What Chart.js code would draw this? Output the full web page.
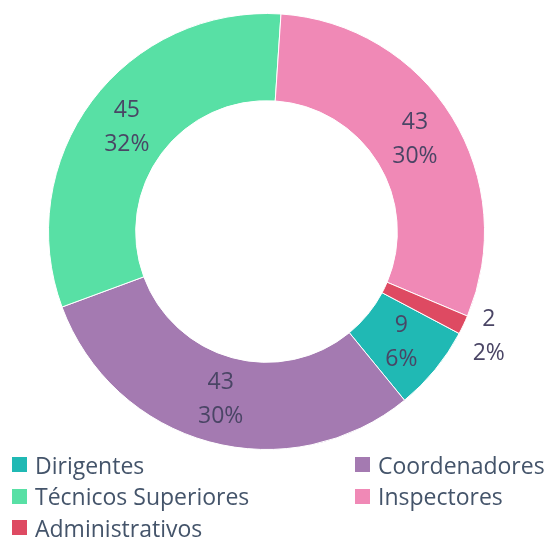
<!DOCTYPE html>
<html>
<head>
<meta charset="utf-8">
<script src="https://cdn.jsdelivr.net/npm/chart.js@4"></script>
<style>
    html, body { margin: 0; padding: 0; background: #fff; }
    #wrap { position: relative; width: 551px; height: 540px; }
    #legend { position: absolute; left: 12px; top: 449px; width: 539px; display: grid; grid-template-columns: 343px 196px; row-gap: 0; font-family: "Open Sans", sans-serif; font-size: 23px; color: #44546a; }
    .item { display: flex; align-items: center; height: 31.5px; white-space: nowrap; }
    .box { width: 15px; height: 15px; margin-right: 8px; flex: none; }
</style>
</head>
<body>
<div id="wrap">
    <canvas id="doughnutChart" width="551" height="455"></canvas>
    <div id="legend"></div>
</div>
<script>
const categories = ['Dirigentes', 'Coordenadores', 'Técnicos Superiores', 'Inspectores', 'Administrativos'];
const values = [9, 43, 45, 43, 2];
const colors = ['#20b9b4', '#a47ab1', '#58e0a5', '#f089b6', '#de4a62'];

// percentages rounded so they add up to 100 (largest remainder)
const total = values.reduce((a, b) => a + b, 0);
const raw = values.map(v => v / total * 100);
const pct = raw.map(Math.floor);
let left = 100 - pct.reduce((a, b) => a + b, 0);
raw.map((r, i) => [r - Math.floor(r), i]).sort((a, b) => b[0] - a[0]).slice(0, left).forEach(([, i]) => pct[i]++);

// value + percent labels on the slices
const sliceLabels = {
    id: 'sliceLabels',
    afterDatasetsDraw(chart) {
        const ctx = chart.ctx;
        const meta = chart.getDatasetMeta(0);
        ctx.save();
        ctx.font = '23px "Open Sans", sans-serif';
        ctx.fillStyle = '#4a4565';
        ctx.textAlign = 'center';
        ctx.textBaseline = 'middle';
        meta.data.forEach((arc, i) => {
            const p = arc.getProps(['x', 'y', 'startAngle', 'endAngle', 'innerRadius', 'outerRadius'], true);
            const mid = (p.startAngle + p.endAngle) / 2;
            const small = values[i] / total < 0.03;
            const r = small ? p.outerRadius + 28 : (p.innerRadius + p.outerRadius) / 2;
            const x = p.x + r * Math.cos(mid);
            const y = p.y + r * Math.sin(mid);
            ctx.fillText(String(values[i]), x, y - 17);
            ctx.fillText(pct[i] + '%', x, y + 17);
        });
        ctx.restore();
    }
};

const chart = new Chart(document.getElementById('doughnutChart').getContext('2d'), {
    type: 'doughnut',
    data: {
        labels: categories,
        datasets: [{
            data: values,
            backgroundColor: colors,
            borderColor: '#ffffff',
            borderWidth: 1
        }]
    },
    options: {
        responsive: false,
        animation: false,
        cutout: '60%',
        rotation: 117.9,
        layout: { padding: { top: 13, bottom: 5, left: 0, right: 18 } },
        plugins: {
            legend: { display: false },
            tooltip: { enabled: false }
        }
    },
    plugins: [sliceLabels]
});

// legend in two columns
const legendEl = document.getElementById('legend');
categories.forEach((name, i) => {
    const item = document.createElement('div');
    item.className = 'item';
    item.innerHTML = '<span class="box" style="background:' + colors[i] + '"></span><span>' + name + '</span>';
    legendEl.appendChild(item);
});
</script>
</body>
</html>
